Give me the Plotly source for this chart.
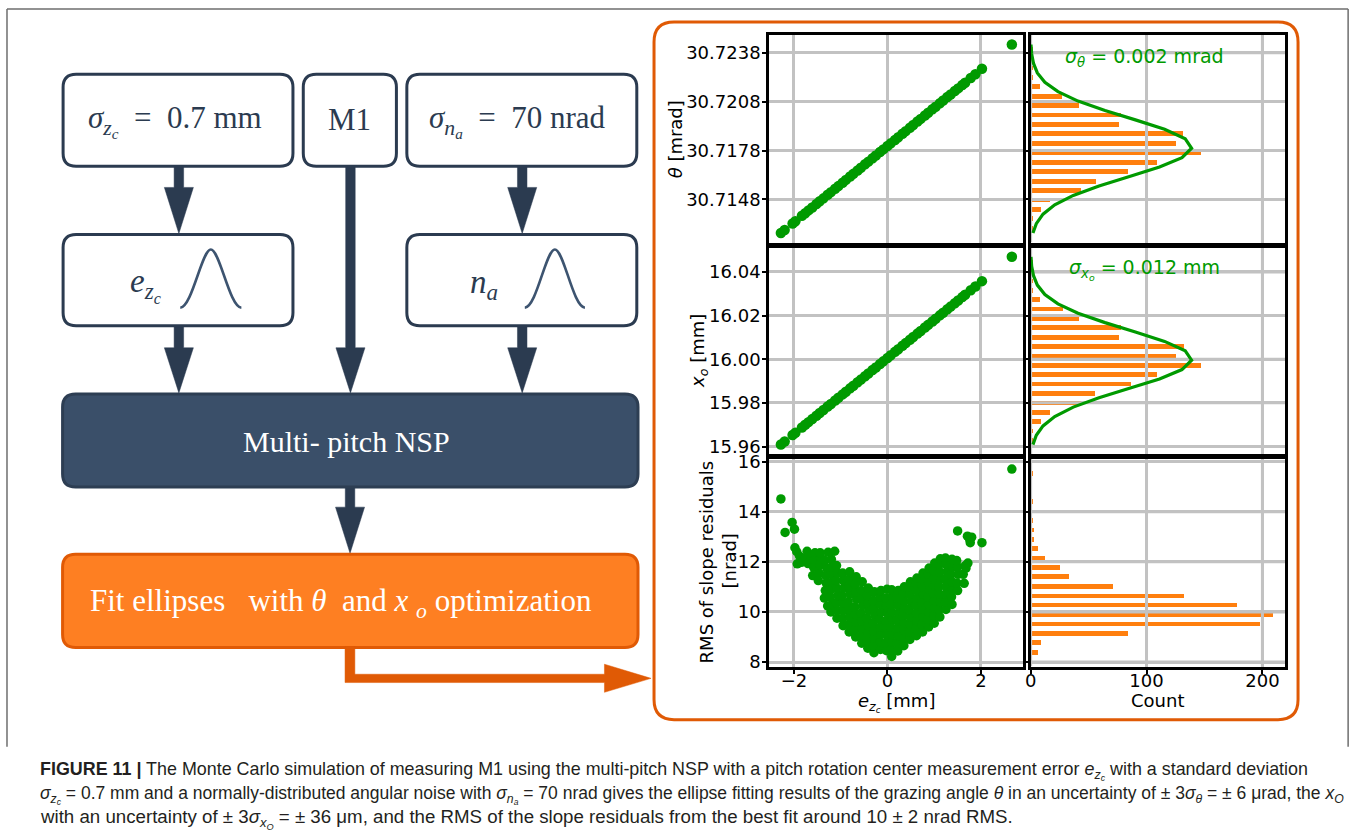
import plotly.graph_objects as go

W, H = 1356, 837

# ---------------- data ----------------
e_ticks = [-2, 0, 2]
e_ticktext = ["\u22122", "0", "2"]
count_ticks = [0, 100, 200]
theta_ticks = [30.7148, 30.7178, 30.7208, 30.7238]
x_o_ticks = [15.96, 15.98, 16.00, 16.02, 16.04]
rms_ticks = [8, 10, 12, 14, 16]

# e_zc vs fitted theta / x_o (scatter, rows 1-2)
e_zc_fit = [-2.28, -2.20, -2.03, -1.97, -1.83, -1.76, -1.69, -1.61, -1.52, -1.45, -1.37, -1.28,
            -1.21, -1.12, -1.05, -0.96, -0.89, -0.80, -0.73, -0.64, -0.57, -0.48, -0.41, -0.32,
            -0.25, -0.16, -0.09, 0.00, 0.07, 0.16, 0.23, 0.32, 0.39, 0.48, 0.55, 0.64, 0.71,
            0.80, 0.87, 0.96, 1.03, 1.12, 1.19, 1.28, 1.35, 1.44, 1.51, 1.60, 1.66, 1.78, 1.88,
            2.02, 2.66]
theta_fit = [30.71274, 30.71293, 30.71333, 30.71347, 30.71380, 30.71396, 30.71413, 30.71431,
             30.71452, 30.71469, 30.71487, 30.71509, 30.71525, 30.71546, 30.71562, 30.71583,
             30.71600, 30.71621, 30.71637, 30.71658, 30.71675, 30.71696, 30.71712, 30.71733,
             30.71750, 30.71771, 30.71787, 30.71808, 30.71824, 30.71845, 30.71862, 30.71883,
             30.71899, 30.71920, 30.71937, 30.71958, 30.71974, 30.71995, 30.72012, 30.72033,
             30.72049, 30.72070, 30.72087, 30.72108, 30.72124, 30.72145, 30.72161, 30.72182,
             30.72196, 30.72225, 30.72248, 30.72281, 30.72430]
x_o_fit = [15.96088, 15.96228, 15.96524, 15.96628, 15.96872, 15.96994, 15.97116, 15.97255,
           15.97412, 15.97534, 15.97673, 15.97830, 15.97952, 15.98109, 15.98231, 15.98388,
           15.98510, 15.98666, 15.98788, 15.98945, 15.99067, 15.99224, 15.99346, 15.99503,
           15.99625, 15.99781, 15.99903, 16.00060, 16.00182, 16.00339, 16.00461, 16.00617,
           16.00739, 16.00896, 16.01018, 16.01175, 16.01297, 16.01454, 16.01576, 16.01732,
           16.01854, 16.02011, 16.02133, 16.02290, 16.02412, 16.02568, 16.02690, 16.02847,
           16.02952, 16.03161, 16.03335, 16.03579, 16.04694]

# e_zc vs RMS of slope residuals (scatter, row 3)
e_zc = [
    -2.28, -2.19, -2.04, -1.99, -1.98, -1.94, -1.93, -1.88, -1.84,
    -1.76, -1.72, -1.70, -1.66,
    -1.60, -1.58, -1.57, -1.55,
    -1.48, -1.46, -1.45, -1.43, -1.44,
    -1.35, -1.33, -1.31, -1.32, -1.30, -1.34, -1.28, -1.27,
    -1.21, -1.19, -1.22, -1.20, -1.18, -1.21, -1.19, -1.20,
    -1.08, -1.07, -1.09, -1.06, -1.08, -1.10, -1.07, -1.09, -1.13,
    -0.95, -0.96, -0.94, -0.95, -0.97, -0.93, -0.95, -0.96,
    -0.82, -0.83, -0.81, -0.82, -0.84, -0.80, -0.82, -0.83, -0.81,
    -0.68, -0.69, -0.67, -0.68, -0.70, -0.66, -0.68, -0.69, -0.67,
    -0.55, -0.56, -0.54, -0.55, -0.57, -0.53, -0.55, -0.56, -0.54,
    -0.42, -0.43, -0.41, -0.42, -0.44, -0.40, -0.42, -0.43, -0.41,
    -0.29, -0.30, -0.28, -0.29, -0.31, -0.27, -0.29, -0.30, -0.28,
    -0.15, -0.16, -0.14, -0.15, -0.17, -0.13, -0.15, -0.16, -0.14,
    -0.02, -0.03, -0.01, -0.02, -0.04, 0.00, -0.02, -0.03, -0.01,
    0.09, 0.08, 0.10, 0.09, 0.07, 0.11, 0.09, 0.08, 0.10, 0.09,
    0.22, 0.21, 0.23, 0.22, 0.20, 0.24, 0.22, 0.21, 0.23,
    0.35, 0.34, 0.36, 0.35, 0.33, 0.37, 0.35, 0.34, 0.36,
    0.48, 0.47, 0.49, 0.48, 0.46, 0.50, 0.48, 0.47, 0.49,
    0.62, 0.61, 0.63, 0.62, 0.60, 0.64, 0.62, 0.61, 0.63,
    0.75, 0.74, 0.76, 0.75, 0.73, 0.77, 0.75, 0.74, 0.76,
    0.88, 0.87, 0.89, 0.88, 0.86, 0.90, 0.88, 0.87, 0.89,
    1.00, 0.99, 1.01, 1.00, 0.98, 1.02, 1.00, 0.99, 1.01,
    1.12, 1.11, 1.13, 1.12, 1.10, 1.14, 1.12, 1.11, 1.13,
    1.25, 1.24, 1.26, 1.25, 1.23, 1.27, 1.25, 1.24,
    1.38, 1.37, 1.39, 1.38, 1.36, 1.40, 1.38,
    1.50, 1.49, 1.51, 1.50, 1.48,
    1.64, 1.62, 1.66,
    1.50, 1.71, 1.76, 1.80, 1.77, 2.02, 2.66, 1.68, 1.72,
]
rms_resid = [
    14.51, 13.17, 13.57, 13.30, 12.56, 12.40, 11.92, 12.22, 11.98,
    12.15, 12.42, 11.93, 12.28,
    11.45, 11.78, 12.08, 12.36,
    11.25, 11.55, 11.88, 12.18, 12.36,
    10.55, 10.85, 11.15, 11.45, 11.75, 12.05, 10.24, 12.38,
    10.00, 10.30, 10.60, 10.90, 11.20, 11.50, 11.80, 12.10,
    9.75, 10.05, 10.35, 10.65, 10.95, 11.25, 11.55, 11.85, 12.42,
    9.45, 9.75, 10.05, 10.35, 10.65, 10.95, 11.25, 11.55,
    9.20, 9.50, 9.80, 10.10, 10.40, 10.70, 11.00, 11.30, 11.60,
    9.00, 9.30, 9.60, 9.90, 10.20, 10.50, 10.80, 11.10, 11.40,
    8.75, 9.05, 9.35, 9.65, 9.95, 10.25, 10.55, 10.85, 11.20,
    8.55, 8.85, 9.15, 9.45, 9.75, 10.05, 10.35, 10.65, 10.95,
    8.37, 8.65, 8.95, 9.25, 9.55, 9.85, 10.15, 10.45, 10.80,
    8.50, 8.80, 9.10, 9.40, 9.70, 10.00, 10.30, 10.60, 10.85,
    8.45, 8.75, 9.05, 9.35, 9.65, 9.95, 10.25, 10.55, 10.90,
    8.22, 8.50, 8.80, 9.10, 9.40, 9.70, 10.00, 10.30, 10.60, 10.88,
    8.44, 8.75, 9.05, 9.35, 9.65, 9.95, 10.25, 10.55, 10.85,
    8.65, 8.95, 9.25, 9.55, 9.85, 10.15, 10.45, 10.75, 11.00,
    8.90, 9.20, 9.50, 9.80, 10.10, 10.40, 10.70, 11.00, 11.20,
    9.05, 9.35, 9.65, 9.95, 10.25, 10.55, 10.85, 11.15, 11.35,
    9.20, 9.50, 9.80, 10.10, 10.40, 10.70, 11.00, 11.30, 11.55,
    9.40, 9.70, 10.00, 10.30, 10.60, 10.90, 11.20, 11.50, 11.75,
    9.55, 9.85, 10.15, 10.45, 10.75, 11.05, 11.35, 11.65, 11.95,
    9.80, 10.10, 10.40, 10.70, 11.00, 11.30, 11.60, 11.90, 12.12,
    10.10, 10.40, 10.70, 11.00, 11.30, 11.60, 11.90, 12.15,
    10.30, 10.60, 10.90, 11.20, 11.50, 11.80, 12.10,
    10.85, 11.15, 11.50, 11.80, 12.05,
    11.14, 11.50, 11.84,
    13.23, 13.02, 12.88, 12.98, 12.76, 12.76, 15.70, 11.75, 11.95,
]

# histograms (bin centres and counts)
theta_bins = [30.71303, 30.71361, 30.71419, 30.71477, 30.71535, 30.71592, 30.71650, 30.71708,
              30.71766, 30.71824, 30.71882, 30.71939, 30.71997, 30.72055, 30.72113, 30.72171,
              30.72228, 30.72286, 30.72344, 30.72402]
theta_counts = [2, 2, 9, 16, 43, 56, 84, 109, 147, 125, 131, 76, 78, 41, 27, 8, 2, 1, 0, 1]
x_o_bins = [15.96300, 15.96730, 15.97160, 15.97591, 15.98021, 15.98451, 15.98881, 15.99311,
            15.99742, 16.00172, 16.00602, 16.01032, 16.01462, 16.01893, 16.02323, 16.02753,
            16.03183, 16.03613, 16.04044, 16.04474]
x_o_counts = [2, 2, 9, 16, 43, 55, 86, 109, 147, 125, 132, 76, 78, 41, 28, 8, 2, 1, 0, 1]
rms_bins = [8.39, 8.77, 9.14, 9.52, 9.89, 10.27, 10.64, 11.02, 11.40, 11.77, 12.15, 12.52,
            12.90, 13.27, 13.65, 14.02, 14.40, 14.78, 15.15, 15.53]
rms_counts = [6, 9, 84, 198, 209, 178, 132, 71, 33, 25, 12, 6, 3, 3, 1, 0, 1, 0, 0, 1]

# fitted normal curves drawn over the histograms
theta_curve = [30.71274, 30.71332, 30.71390, 30.71447, 30.71505, 30.71563, 30.71621, 30.71679,
               30.71736, 30.71794, 30.71852, 30.71910, 30.71968, 30.72025, 30.72083, 30.72141,
               30.72199, 30.72256, 30.72314, 30.72372, 30.72430]
theta_curve_counts = [2.0, 4.9, 10.7, 20.8, 36.8, 59.0, 85.3, 111.2, 130.6, 138.9, 133.4, 115.6,
                      90.4, 64.2, 40.9, 23.6, 12.3, 5.8, 2.5, 0.9, 0.3]
x_o_curve = [15.96085, 15.96515, 15.96945, 15.97376, 15.97806, 15.98236, 15.98666, 15.99096,
             15.99527, 15.99957, 16.00387, 16.00817, 16.01247, 16.01678, 16.02108, 16.02538,
             16.02968, 16.03398, 16.03829, 16.04259, 16.04689]
x_o_curve_counts = [2.0, 4.9, 10.7, 20.8, 36.8, 59.0, 85.3, 111.2, 130.6, 138.9, 133.4, 115.6,
                    90.4, 64.2, 40.9, 23.6, 12.3, 5.8, 2.5, 0.9, 0.3]

assert len(e_zc) == len(rms_resid)

# ---------------- styles ----------------
GREEN = "#009a00"
ORANGE = "#ff7f0e"
GRID = "#c2c2c2"
NAVY = "#2b3b50"
NSP_FILL = "#3a4f69"
FIT_FILL = "#fe7f22"
DARK_OR = "#e05a05"
SANS = "DejaVu Sans"
SERIF = "Liberation Serif"

# positions below are written in the reference's pixel coordinates; the page
# shows the figure shifted by ~8 px and slightly shrunk, so compensate here.
OX, SX = 8.0, 0.994
OY, SY = 8.0, 0.981


def fx(px):
    return ((px - OX) / SX) / W


def fy(py):
    return 1 - ((py - OY) / SY) / H


col_px = [(770, 1023), (1031, 1285)]
row_px = [(35, 242), (247, 453), (458, 665)]

fig = go.Figure()


def ref(i, kind):
    return kind if i == 1 else f"{kind}{i}"


def ax_name(i, kind):
    return "xaxis" if (kind == "x" and i == 1) else ("yaxis" if i == 1 else f"{kind}axis{i}")


panels = {}
for r in range(3):
    for c in range(2):
        panels[(r, c)] = r * 2 + c + 1

x_specs = [
    dict(range=[-2.53, 2.89], tickvals=e_ticks, ticktext=e_ticktext),
    dict(range=[0, 219.5], tickvals=count_ticks, ticktext=[str(v) for v in count_ticks]),
]
y_specs = [
    dict(range=[30.71216, 30.72488], tickvals=theta_ticks,
         ticktext=[f"{v:.4f}" for v in theta_ticks]),
    dict(range=[15.95655, 16.05119], tickvals=x_o_ticks,
         ticktext=[f"{v:.2f}" for v in x_o_ticks]),
    dict(range=[7.82, 16.10], tickvals=rms_ticks, ticktext=[str(v) for v in rms_ticks]),
]


def grid_over(i, r):
    """grid lines of a histogram panel, drawn over its bars (as in the reference)"""
    xr = x_specs[1]["range"]
    yr = y_specs[r]["range"]
    gx, gy = [], []
    for v in y_specs[r]["tickvals"]:
        gx += [xr[0], xr[1], None]
        gy += [v, v, None]
    for v in count_ticks:
        gx += [v, v, None]
        gy += [yr[0], yr[1], None]
    fig.add_trace(go.Scatter(x=gx, y=gy, mode="lines", line=dict(color=GRID, width=3),
                             hoverinfo="skip", xaxis=ref(i, "x"), yaxis=ref(i, "y"),
                             showlegend=False))


# traces
p = panels[(0, 0)]
fig.add_trace(go.Scatter(x=e_zc_fit, y=theta_fit, mode="markers",
                         marker=dict(color=GREEN, size=10.5, line=dict(width=0)),
                         xaxis=ref(p, "x"), yaxis=ref(p, "y"), showlegend=False))
p = panels[(0, 1)]
fig.add_trace(go.Bar(y=theta_bins, x=theta_counts, orientation="h", width=0.00029,
                     marker=dict(color=ORANGE, line=dict(width=0)),
                     xaxis=ref(p, "x"), yaxis=ref(p, "y"), showlegend=False))
grid_over(p, 0)
fig.add_trace(go.Scatter(x=theta_curve_counts, y=theta_curve, mode="lines",
                         line=dict(color=GREEN, width=3.2),
                         xaxis=ref(p, "x"), yaxis=ref(p, "y"), showlegend=False))
p = panels[(1, 0)]
fig.add_trace(go.Scatter(x=e_zc_fit, y=x_o_fit, mode="markers",
                         marker=dict(color=GREEN, size=10.5, line=dict(width=0)),
                         xaxis=ref(p, "x"), yaxis=ref(p, "y"), showlegend=False))
p = panels[(1, 1)]
fig.add_trace(go.Bar(y=x_o_bins, x=x_o_counts, orientation="h", width=0.00215,
                     marker=dict(color=ORANGE, line=dict(width=0)),
                     xaxis=ref(p, "x"), yaxis=ref(p, "y"), showlegend=False))
grid_over(p, 1)
fig.add_trace(go.Scatter(x=x_o_curve_counts, y=x_o_curve, mode="lines",
                         line=dict(color=GREEN, width=3.2),
                         xaxis=ref(p, "x"), yaxis=ref(p, "y"), showlegend=False))
p = panels[(2, 0)]
fig.add_trace(go.Scatter(x=e_zc, y=rms_resid, mode="markers",
                         marker=dict(color=GREEN, size=9.5, line=dict(width=0)),
                         xaxis=ref(p, "x"), yaxis=ref(p, "y"), showlegend=False))
p = panels[(2, 1)]
fig.add_trace(go.Bar(y=rms_bins, x=rms_counts, orientation="h", width=0.185,
                     marker=dict(color=ORANGE, line=dict(width=0)),
                     xaxis=ref(p, "x"), yaxis=ref(p, "y"), showlegend=False))
grid_over(p, 2)

# axes
base = dict(showline=True, mirror=True, linecolor="black", linewidth=3,
            showgrid=True, gridcolor=GRID, gridwidth=3, zeroline=False,
            ticks="outside", ticklen=4, tickwidth=1.5, tickcolor="black",
            tickfont=dict(family=SANS, size=18, color="black"), fixedrange=True)
layout_axes = {}
for (r, c), i in panels.items():
    x0, x1 = col_px[c]
    y0, y1 = row_px[r]
    xa = dict(base, **x_specs[c])
    xa.update(domain=[fx(x0), fx(x1)], anchor=ref(i, "y"), showticklabels=(r == 2),
              ticklabelstandoff=-8)
    ya = dict(base, **y_specs[r])
    ya.update(domain=[fy(y1), fy(y0)], anchor=ref(i, "x"), showticklabels=(c == 0),
              ticklabelstandoff=-2)
    layout_axes[ax_name(i, "x")] = xa
    layout_axes[ax_name(i, "y")] = ya

# ---------------- flowchart shapes ----------------
shapes = []


def rrect(x0, y0, x1, y1, r, fill, line, lw):
    d = (f"M {fx(x0 + r)},{fy(y0)} L {fx(x1 - r)},{fy(y0)} Q {fx(x1)},{fy(y0)} {fx(x1)},{fy(y0 + r)} "
         f"L {fx(x1)},{fy(y1 - r)} Q {fx(x1)},{fy(y1)} {fx(x1 - r)},{fy(y1)} "
         f"L {fx(x0 + r)},{fy(y1)} Q {fx(x0)},{fy(y1)} {fx(x0)},{fy(y1 - r)} "
         f"L {fx(x0)},{fy(y0 + r)} Q {fx(x0)},{fy(y0)} {fx(x0 + r)},{fy(y0)} Z")
    shapes.append(dict(type="path", xref="paper", yref="paper", path=d,
                       fillcolor=fill, line=dict(color=line, width=lw), layer="above"))


def poly(pts, color):
    d = "M " + " L ".join(f"{fx(x)},{fy(y)}" for x, y in pts) + " Z"
    shapes.append(dict(type="path", xref="paper", yref="paper", path=d,
                       fillcolor=color, line=dict(color=color, width=0.5), layer="above"))


def down_arrow(cx, ys, yh, yt, color, sw=9.5, hw=14.5):
    poly([(cx - sw / 2, ys), (cx + sw / 2, ys), (cx + sw / 2, yh), (cx + hw, yh),
          (cx, yt), (cx - hw, yh), (cx - sw / 2, yh)], color)


def bell(x0, x1, ytop, ybot, color):
    xm = (x0 + x1) / 2
    d = (f"M {fx(x0)},{fy(ybot)} C {fx(x0 + 12)},{fy(ybot - 1)} {fx(xm - 9)},{fy(ytop)} {fx(xm)},{fy(ytop)} "
         f"C {fx(xm + 9)},{fy(ytop)} {fx(x1 - 12)},{fy(ybot - 1)} {fx(x1)},{fy(ybot)}")
    shapes.append(dict(type="path", xref="paper", yref="paper", path=d,
                       line=dict(color=color, width=2.6), layer="above"))


# outer figure frame (top and left edges sit at the very border of the figure)
top_y, left_x = 1 - 1.0 / H, 1.0 / W
shapes.append(dict(type="line", xref="paper", yref="paper", x0=left_x, y0=top_y,
                   x1=fx(1348), y1=top_y, line=dict(color="#6e6e6e", width=1.5)))
shapes.append(dict(type="line", xref="paper", yref="paper", x0=left_x, y0=top_y,
                   x1=left_x, y1=fy(745), line=dict(color="#6e6e6e", width=1.5)))
shapes.append(dict(type="line", xref="paper", yref="paper", x0=fx(1348), y0=top_y,
                   x1=fx(1348), y1=fy(745), line=dict(color="#6e6e6e", width=1.5)))

# arrows (drawn first so boxes overlap their ends)
down_arrow(180.6, 164, 187, 233, NAVY)
down_arrow(523.4, 164, 187, 233, NAVY)
down_arrow(180.6, 323, 347, 392, NAVY)
down_arrow(523.4, 323, 347, 392, NAVY)
down_arrow(351.9, 164, 347, 392, NAVY)
down_arrow(351.5, 485, 506, 552, NAVY)

rrect(65, 74, 294.5, 166, 13, "white", NAVY, 3)
rrect(304.8, 74, 397.8, 166, 13, "white", NAVY, 3)
rrect(408.2, 74, 637.8, 166, 13, "white", NAVY, 3)
rrect(65, 234, 294.5, 325, 13, "white", NAVY, 3)
rrect(408.2, 234, 637.8, 325, 13, "white", NAVY, 3)
rrect(64.5, 393, 639, 486, 13, NSP_FILL, "#2d3e53", 3)
rrect(64.5, 553, 639, 646, 13, FIT_FILL, DARK_OR, 3)
bell(182, 243, 249, 307, "#3d5470")
bell(526, 586, 249, 307, "#3d5470")

# orange connector to the chart panel
poly([(346.5, 645), (356.3, 645), (356.3, 672.7), (605.5, 672.7), (605.5, 662.7), (652, 676.8),
      (605.5, 690.7), (605.5, 681), (346.5, 681)], DARK_OR)
# orange frame round the charts
rrect(655, 22, 1298, 718, 20, "rgba(0,0,0,0)", DARK_OR, 3)

# ---------------- text ----------------
ann = []


def text(t, x, y, size, color, family, xanchor="center", yanchor="middle", angle=0):
    ann.append(dict(text=t, x=fx(x), y=fy(y), xref="paper", yref="paper", showarrow=False,
                    xanchor=xanchor, yanchor=yanchor, textangle=angle,
                    font=dict(size=size, color=color, family=family)))


text("<i>σ</i><sub><i>z<sub>c</sub></i></sub> &nbsp;= &nbsp;0.7 mm", 177, 121, 31, NAVY, SERIF)
text("M1", 351, 119, 31, NAVY, SERIF)
text("<i>σ</i><sub><i>n<sub>a</sub></i></sub> &nbsp;= &nbsp;70 nrad", 519, 121, 31, NAVY, SERIF)
text("<i>e</i><sub><i>z<sub>c</sub></i></sub>", 147, 284, 33, NAVY, SERIF)
text("<i>n</i><sub><i>a</i></sub>", 485, 284, 33, NAVY, SERIF)
text("Multi- pitch NSP", 348, 440, 30, "white", SERIF)
text("Fit ellipses &nbsp;&nbsp;with <i>θ</i> &nbsp;and <i>x</i> <sub><i>o</i></sub> optimization",
     342, 602, 31, "white", SERIF)

text("<i>σ</i><sub><i>θ</i></sub> = 0.002 mrad", 1145, 57, 19, GREEN, SANS)
text("<i>σ</i><sub><i>x<sub>o</sub></i></sub> = 0.012 mm", 1145, 269, 19, GREEN, SANS)
text("<i>θ</i> [mrad]", 676, 139, 18, "black", SANS, angle=-90)
text("<i>x</i><sub><i>o</i></sub> [mm]", 700, 350, 18, "black", SANS, angle=-90)
text("RMS of slope residuals", 707, 561, 18, "black", SANS, angle=-90)
text("[nrad]", 730, 560, 18, "black", SANS, angle=-90)
text("<i>e</i><sub><i>z<sub>c</sub></i></sub> [mm]", 897, 701, 18, "black", SANS)
text("Count", 1158, 699, 18, "black", SANS)

CAP = "Liberation Sans"
cap1 = ("<b>FIGURE 11 |</b> The Monte Carlo simulation of measuring M1 using the multi-pitch NSP "
        "with a pitch rotation center measurement error <i>e</i><sub><i>z<sub>c</sub></i></sub> "
        "with a standard deviation")
cap2 = ("<i>σ</i><sub><i>z<sub>c</sub></i></sub> = 0.7 mm and a normally-distributed angular noise with "
        "<i>σ</i><sub><i>n<sub>a</sub></i></sub> = 70 nrad gives the ellipse fitting results of the grazing "
        "angle <i>θ</i> in an uncertainty of ± 3<i>σ</i><sub><i>θ</i></sub> = ± 6 μrad, the "
        "<i>x</i><sub><i>O</i></sub>")
cap3 = ("with an uncertainty of ± 3<i>σ</i><sub><i>x<sub>O</sub></i></sub> = ± 36 μm, and the RMS of the "
        "slope residuals from the best fit around 10 ± 2 nrad RMS.")
text(cap1, 40, 769, 17.9, "#231f20", CAP, xanchor="left")
text(cap2, 40, 793, 17.5, "#231f20", CAP, xanchor="left")
text(cap3, 40, 817, 18.7, "#231f20", CAP, xanchor="left")

fig.update_layout(
    width=W, height=H, autosize=False,
    margin=dict(l=0, r=0, t=0, b=0, pad=0),
    paper_bgcolor="white", plot_bgcolor="white",
    showlegend=False, bargap=0, hovermode=False,
    shapes=shapes, annotations=ann,
    **layout_axes,
)

fig.write_html("out.html", config={"displayModeBar": False},
               post_script="document.body.style.margin='0';document.body.style.overflow='hidden';")
